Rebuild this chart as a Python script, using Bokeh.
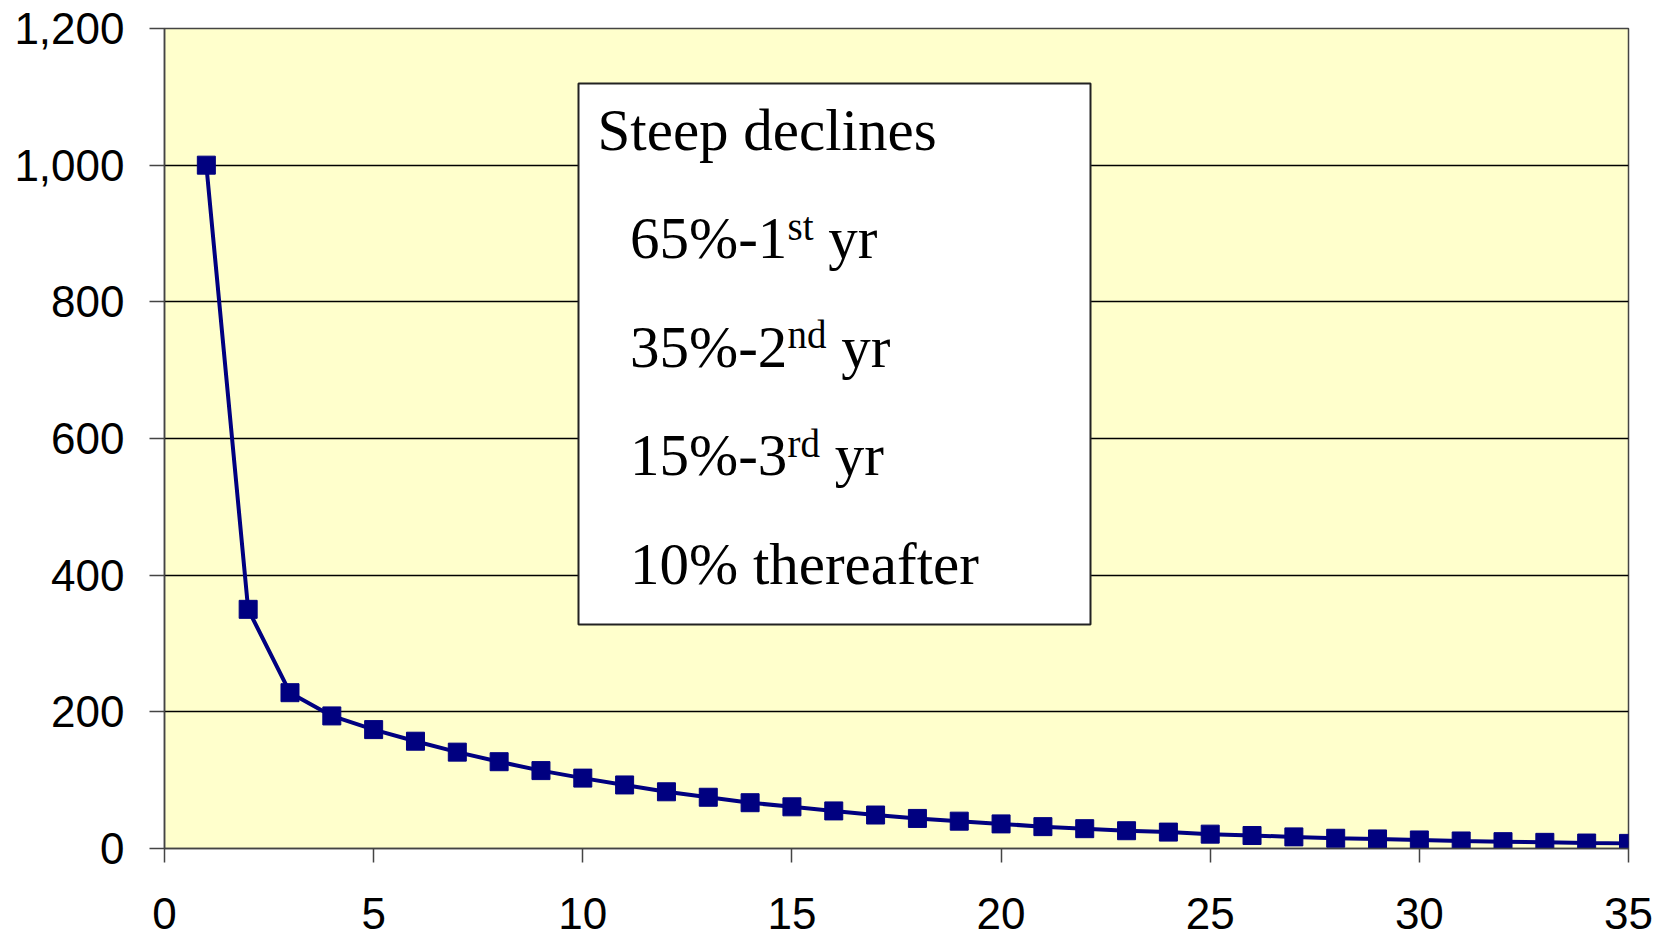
from bokeh.plotting import figure
from bokeh.models import NumeralTickFormatter, SingleIntervalTicker, Range1d
from bokeh.core.properties import value
from bokeh.embed import file_html
from bokeh.resources import INLINE

# ---- data ----
years = [1, 2, 3, 4, 5, 6, 7, 8, 9, 10, 11, 12, 13, 14, 15, 16, 17, 18,
         19, 20, 21, 22, 23, 24, 25, 26, 27, 28, 29, 30, 31, 32, 33, 34, 35]
production = [1000, 350, 228, 194, 174, 157, 141, 127, 114, 103, 93, 83,
              75, 67, 61, 55, 49, 44, 40, 36, 32, 29, 26, 24, 21, 19, 17,
              15, 14, 12.5, 11, 10, 9, 8, 7.5]
box_title = "Steep declines"
box_lines = [("65%-1", "st", "yr"), ("35%-2", "nd", "yr"), ("15%-3", "rd", "yr")]
box_last = "10% thereafter"

W, H = 1667, 939
FL, FT, FR, FB = 164, 28, 39, 91   # frame borders on canvas

p = figure(width=W, height=H, output_backend="svg", toolbar_location=None,
           x_range=Range1d(0, 35), y_range=Range1d(0, 1200),
           min_border_left=FL, min_border_top=FT, min_border_right=FR,
           min_border_bottom=FB, background_fill_color="#FFFFCC",
           border_fill_color="white")

# pixel -> data helper for placing the text box
fw = W - FL - FR
fh = H - FT - FB
def px(sx, sy):
    return (sx - FL) / fw * 35.0, (FT + fh - sy) / fh * 1200.0

p.outline_line_color = "#444444"
p.outline_line_width = 1.5

p.xgrid.visible = False
p.ygrid.grid_line_color = "black"
p.ygrid.grid_line_width = 1.3
p.ygrid.ticker = SingleIntervalTicker(interval=200)

for ax in (p.xaxis, p.yaxis):
    ax.axis_line_color = "#444444"
    ax.axis_line_width = 1.5
    ax.major_tick_line_color = "#444444"
    ax.major_tick_line_width = 1.5
    ax.major_tick_in = 0
    ax.minor_tick_line_color = None
    ax.major_label_text_font = "Liberation Sans"
    ax.major_label_text_font_size = "44px"
    ax.major_label_text_color = "black"

p.xaxis.ticker = SingleIntervalTicker(interval=5)
p.xaxis.major_tick_out = 14
p.xaxis.major_label_standoff = 35
p.yaxis.ticker = SingleIntervalTicker(interval=200)
p.yaxis.major_tick_out = 15
p.yaxis.major_label_standoff = 25
p.yaxis.formatter = NumeralTickFormatter(format="0,0")

# series
p.line(years, production, line_color="#000080", line_width=4)
p.scatter(years, production, marker="square", size=18,
          fill_color="#000080", line_color="#000080")

# text box
l, t = px(578, 83)
r, b = px(1090, 624)
p.quad(left=[l], right=[r], top=[t], bottom=[b], fill_color="white",
       line_color="#222222", line_width=2)

serif = value("Liberation Serif")
def txt(sx, sy, s, size):
    # baseline correction found empirically (~0.32 em)
    x, y = px(sx, sy - 0.32 * size)
    p.text(x=[x], y=[y], text=[s], text_font=serif, text_font_size=f"{size}px",
           text_color="black", text_baseline="alphabetic", text_align="left")

BIG, SUP = 59, 39
txt(597, 148, box_title, BIG)
baselines = [256.5, 365, 473.5]
for (main, sup, tail), bl in zip(box_lines, baselines):
    txt(629.5, bl, main, BIG)
    txt(787, bl - 18.5, sup, SUP)
    sup_w = {"st": 0.667, "nd": 1.0, "rd": 0.833}[sup] * SUP
    txt(787 + sup_w + 0.25 * BIG, bl, tail, BIG)
txt(629.5, 582, box_last, BIG)

open("out.html", "w").write(file_html(p, INLINE))
